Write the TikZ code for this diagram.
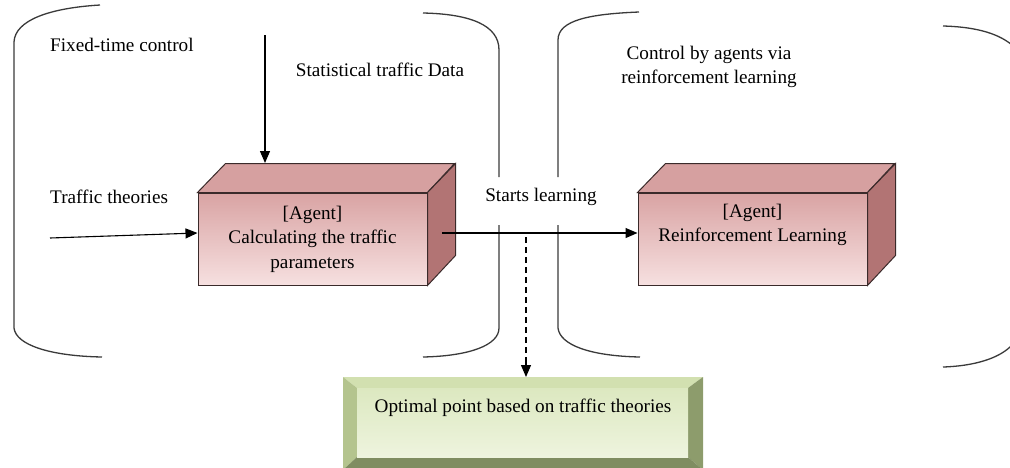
\documentclass[tikz,border=0pt]{standalone}
\usepackage{fontspec}
\setmainfont{Liberation Serif}
\usetikzlibrary{arrows.meta}
\definecolor{bracketc}{HTML}{3A3A3A}
\definecolor{fronttop}{HTML}{D9A3A3}
\definecolor{frontbot}{HTML}{F6E0E0}
\definecolor{topface}{HTML}{D6A0A0}
\definecolor{sideface}{HTML}{B27474}
\definecolor{edgec}{HTML}{3A2A2A}
\definecolor{gin1}{HTML}{DCE8C0}
\definecolor{gin2}{HTML}{EEF4DE}
\definecolor{glight}{HTML}{D2E0B0}
\definecolor{gdark}{HTML}{8D9C6C}
\definecolor{gmid}{HTML}{B4C48E}
\tikzset{
  bracket/.style={draw=bracketc, line width=1.3pt},
  lbl/.style={font=\fontsize{19.2}{24.5}\selectfont, inner sep=0pt},
  face/.style={draw=edgec, line width=1pt, minimum width=229pt, minimum height=92pt,
     top color=fronttop, bottom color=frontbot, inner sep=0pt},
  arr/.style={line width=1.1pt, -{Triangle[length=12pt,width=10pt]}},
}
\begin{document}
\begin{tikzpicture}[x=1pt,y=-1pt]
\useasboundingbox (0,0) rectangle (1010,467);
% brackets
\draw[bracket] (100,5) .. controls (50,8) and (15,20) .. (14,42) -- (14,328) .. controls (16,345) and (50,356) .. (102,357);
\draw[bracket] (423,13) .. controls (470,14) and (499,25) .. (499,50) -- (499,177);
\draw[bracket] (499,225) -- (499,328) .. controls (499,345) and (470,356) .. (423,357);
\draw[bracket] (639,12) .. controls (590,14) and (558,20) .. (558,40) -- (558,177);
\draw[bracket] (558,225) -- (558,328) .. controls (560,345) and (590,356) .. (640,357);
\draw[bracket] (943,26) .. controls (980,27) and (1000,35) .. (1012,45);
\draw[bracket] (943,367) .. controls (975,366) and (1000,358) .. (1012,345);
% box 1
\node[face] (box1) at (312.5,239) {};
\fill[topface, draw=edgec, line width=1pt] (box1.north west) -- ++(28,-29) -- ++(229,0) -- (box1.north east) -- cycle;
\fill[sideface, draw=edgec, line width=1pt] (box1.north east) -- ++(28,-29) -- ++(0,92) -- (box1.south east) -- cycle;
\node[lbl, align=center] (t1) at (box1.center) {[Agent]\\Calculating the traffic\\parameters};
% box 2
\node[face] (box2) at (752.5,239) {};
\fill[topface, draw=edgec, line width=1pt] (box2.north west) -- ++(28,-29) -- ++(229,0) -- (box2.north east) -- cycle;
\fill[sideface, draw=edgec, line width=1pt] (box2.north east) -- ++(28,-29) -- ++(0,92) -- (box2.south east) -- cycle;
\node[lbl, align=center] (t2) at ([yshift=14pt]box2.center) {[Agent]\\Reinforcement Learning};
% green box
\coordinate (gnw) at (343,377);
\coordinate (gse) at (703,470);
\coordinate (inw) at (357,388);
\coordinate (ise) at (688,457);
\fill[glight] (gnw) -- (gnw -| gse) -- (inw -| ise) -- (inw) -- cycle;
\fill[gmid] (gnw) -- (inw) -- (inw |- ise) -- (gnw |- gse) -- cycle;
\fill[gdark] (gnw -| gse) -- (gse) -- (ise) -- (inw -| ise) -- cycle;
\fill[gdark!90!black] (gnw |- gse) -- (inw |- ise) -- (ise) -- (gse) -- cycle;
\node[minimum width=331pt, minimum height=69pt, inner sep=0pt, top color=gin1, bottom color=gin2] (green) at (522.5,422.5) {};
\node[lbl] (gt) at (523,408) {Optimal point based on traffic theories};
% labels
\node[lbl, anchor=west] (l1) at (50,45) {Fixed-time control};
\node[lbl] (l2) at (380,70) {Statistical traffic Data};
\node[lbl, anchor=west] (l3) at (50,197) {Traffic theories};
\node[lbl] (l4) at (541,197) {Starts learning};
\node[lbl, align=center] (l5) at (709,67) {Control by agents via\\reinforcement learning};
% arrows
\coordinate (a0) at (265,35);
\coordinate (a1) at (265,163);
\draw[arr] (a0) -- (a1);
\coordinate (b0) at (50,238);
\draw[arr] (b0) -- ([yshift=6pt]box1.west);
\coordinate (c0) at (442,233);
\draw[arr] (c0) -- (c0 -| box2.west);
\coordinate (d0) at (526,237);
\draw[line width=1.3pt, dash pattern=on 6pt off 4pt] (d0) -- (526,362);
\draw[arr] (526,360) -- (526 ,377);
\end{tikzpicture}
\end{document}
